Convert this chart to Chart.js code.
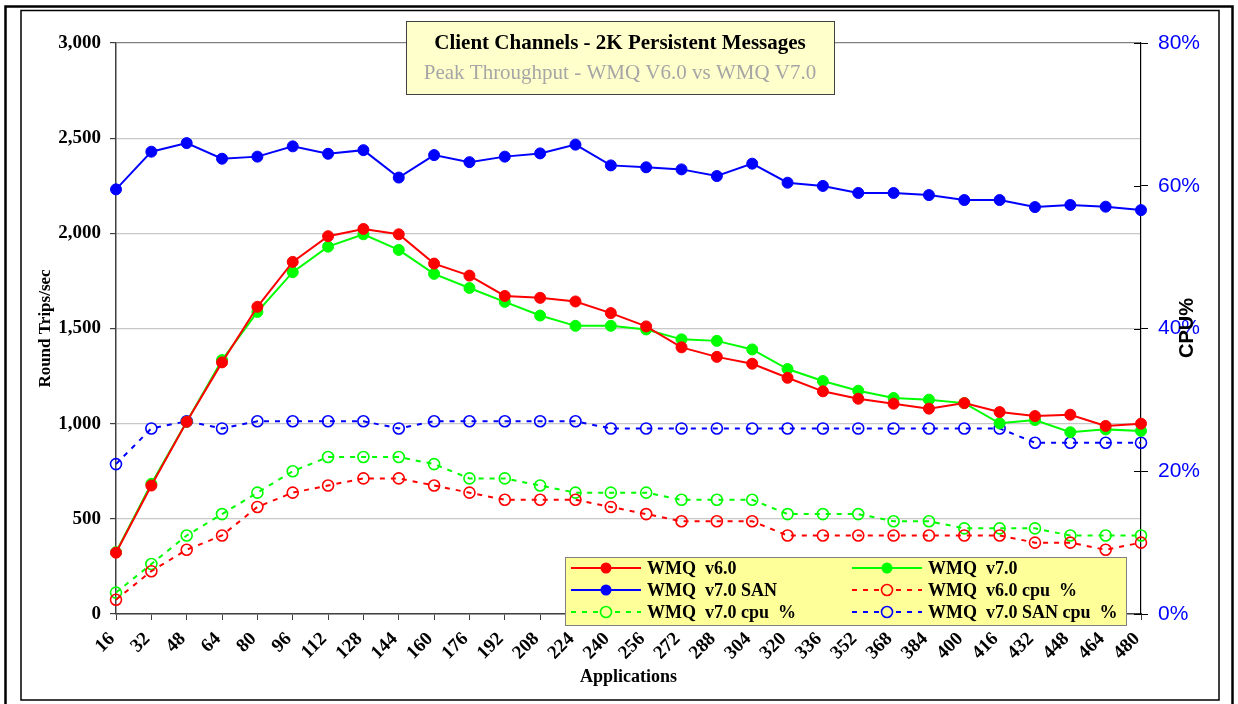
<!DOCTYPE html>
<html>
<head>
<meta charset="utf-8">
<title>Client Channels - 2K Persistent Messages</title>
<script src="https://cdn.jsdelivr.net/npm/chart.js@4"></script>
<style>
  html, body { margin: 0; padding: 0; background: #fff; }
  canvas { display: block; }
</style>
</head>
<body>
<canvas id="myChart" width="1238" height="704"></canvas>
<script>
// x categories (number of applications)
const apps = [16, 32, 48, 64, 80, 96, 112, 128, 144, 160, 176, 192, 208, 224, 240,
              256, 272, 288, 304, 320, 336, 352, 368, 384, 400, 416, 432, 448, 464, 480];

// round trips/sec (left axis)
const v60 = [322, 675, 1010, 1322, 1614, 1850, 1985, 2023, 1995, 1841, 1778, 1671, 1661, 1642, 1581,
             1511, 1401, 1351, 1315, 1241, 1170, 1131, 1105, 1079, 1108, 1061, 1040, 1047, 988, 1000];
const v70 = [325, 684, 1010, 1334, 1587, 1796, 1930, 1995, 1913, 1787, 1713, 1640, 1568, 1514, 1514,
             1495, 1443, 1435, 1390, 1287, 1224, 1173, 1135, 1126, 1108, 1002, 1019, 955, 970, 962];
const v70san = [2231, 2429, 2474, 2392, 2403, 2457, 2418, 2437, 2293, 2411, 2374, 2403, 2420, 2466, 2357,
                2347, 2336, 2301, 2366, 2266, 2249, 2212, 2212, 2201, 2175, 2175, 2138, 2149, 2140, 2122];

// cpu % (right axis)
const v60cpu = [2, 6, 9, 11, 15, 17, 18, 19, 19, 18, 17, 16, 16, 16, 15,
                14, 13, 13, 13, 11, 11, 11, 11, 11, 11, 11, 10, 10, 9, 10];
const v70cpu = [3, 7, 11, 14, 17, 20, 22, 22, 22, 21, 19, 19, 18, 17, 17,
                17, 16, 16, 16, 14, 14, 14, 13, 13, 12, 12, 12, 11, 11, 11];
const sanCpu = [21, 26, 27, 26, 27, 27, 27, 27, 26, 27, 27, 27, 27, 27, 26,
                26, 26, 26, 26, 26, 26, 26, 26, 26, 26, 26, 24, 24, 24, 24];

const titleText = 'Client Channels - 2K Persistent Messages';
const subTitleText = 'Peak Throughput - WMQ V6.0 vs WMQ V7.0';

Chart.defaults.font.family = '"Liberation Serif", "Times New Roman", serif';
Chart.defaults.color = '#000';

function solid(label, data, color) {
    return {
        label: label, data: data, yAxisID: 'y',
        borderColor: color, backgroundColor: color, borderWidth: 2,
        pointRadius: 5.5, pointBackgroundColor: color, pointBorderColor: color, pointBorderWidth: 1,
        tension: 0, clip: false
    };
}
function dotted(label, data, color) {
    return {
        label: label, data: data, yAxisID: 'y1',
        borderColor: color, backgroundColor: color, borderWidth: 2, borderDash: [5, 6],
        pointRadius: 5.5, pointBackgroundColor: 'rgba(255,255,255,0)', pointBorderColor: color, pointBorderWidth: 1.6,
        tension: 0, clip: false
    };
}

// frame, title box, right-axis title and legend drawn on the canvas
const extras = {
    id: 'extras',
    beforeDraw(chart) {
        const c = chart.ctx;
        c.save();
        c.fillStyle = '#fff';
        c.fillRect(0, 0, chart.width, chart.height);
        c.strokeStyle = '#000';
        c.lineWidth = 2.5;
        c.strokeRect(5.5, 6.5, 1227, 720);
        c.lineWidth = 1.5;
        c.strokeRect(21, 10.5, 1198, 689.5);
        c.restore();
    },
    afterDraw(chart) {
        const c = chart.ctx;
        const y1 = chart.scales.y1;
        const area = chart.chartArea;
        c.save();

        // inner half of the right axis tick marks
        c.strokeStyle = '#000';
        c.lineWidth = 1;
        y1.ticks.forEach((t, i) => {
            const py = Math.round(y1.getPixelForTick(i)) + 0.5;
            c.beginPath();
            c.moveTo(area.right - 7, py);
            c.lineTo(area.right, py);
            c.stroke();
        });

        // right axis title, reading upwards
        c.translate(1187, 328);
        c.rotate(-Math.PI / 2);
        c.font = 'bold 20px "Liberation Sans", Arial, sans-serif';
        c.textAlign = 'center';
        c.textBaseline = 'middle';
        c.fillStyle = '#000';
        c.fillText('CPU%', 0, 0);
        c.setTransform(1, 0, 0, 1, 0, 0);

        // title box
        c.fillStyle = '#FFFFCC';
        c.fillRect(406, 21, 428, 73);
        c.strokeStyle = '#404040';
        c.lineWidth = 1;
        c.strokeRect(406.5, 21.5, 428, 73);
        c.textAlign = 'center';
        c.textBaseline = 'middle';
        c.fillStyle = '#000';
        c.font = 'bold 21px "Liberation Serif", serif';
        c.fillText(titleText, 620, 44);
        c.fillStyle = '#A6A6A6';
        c.font = '21px "Liberation Serif", serif';
        c.fillText(subTitleText, 620, 73);

        // legend box
        c.fillStyle = '#FFFF99';
        c.fillRect(565, 557, 561, 68);
        c.strokeStyle = '#808080';
        c.strokeRect(565.5, 557.5, 561, 68);
        const cols = [571, 852];
        const rows = [568, 590, 612];
        c.textAlign = 'left';
        c.font = 'bold 18px "Liberation Serif", serif';
        chart.data.datasets.forEach((ds, i) => {
            const x0 = cols[i % 2];
            const py = rows[Math.floor(i / 2)];
            c.strokeStyle = ds.borderColor;
            c.lineWidth = ds.borderWidth;
            c.setLineDash(ds.borderDash || []);
            c.beginPath();
            c.moveTo(x0, py);
            c.lineTo(x0 + 70, py);
            c.stroke();
            c.setLineDash([]);
            c.beginPath();
            c.arc(x0 + 35, py, ds.pointRadius, 0, Math.PI * 2);
            if (ds.borderDash) {
                c.fillStyle = '#FFFF99';
                c.fill();
                c.lineWidth = ds.pointBorderWidth;
                c.stroke();
            } else {
                c.fillStyle = ds.pointBackgroundColor;
                c.fill();
            }
            c.fillStyle = '#000';
            c.fillText(ds.label, x0 + 76, py + 1);
        });
        c.restore();
    }
};

const ctx = document.getElementById('myChart');

new Chart(ctx, {
    type: 'line',
    data: {
        labels: apps,
        datasets: [
            solid('WMQ  v6.0', v60, '#FF0000'),
            solid('WMQ  v7.0', v70, '#00FF00'),
            solid('WMQ  v7.0 SAN', v70san, '#0000FF'),
            dotted('WMQ  v6.0 cpu  %', v60cpu, '#FF0000'),
            dotted('WMQ  v7.0 cpu  %', v70cpu, '#00FF00'),
            dotted('WMQ  v7.0 SAN cpu  %', sanCpu, '#0000FF')
        ]
    },
    options: {
        responsive: false,
        animation: false,
        devicePixelRatio: 1,
        layout: { padding: { top: 43, left: 0, right: 0, bottom: 0 } },
        plugins: {
            legend: { display: false },
            title: { display: false },
            tooltip: { enabled: false }
        },
        scales: {
            x: {
                offset: false,
                grid: { drawOnChartArea: false, drawTicks: true, tickLength: 6, tickColor: '#404040' },
                border: { color: '#404040', width: 1.5 },
                ticks: {
                    autoSkip: false, minRotation: 45, maxRotation: 45, padding: 8, labelOffset: -4,
                    font: { size: 19, weight: 'bold' }, color: '#000'
                },
                title: {
                    display: true, text: 'Applications',
                    font: { size: 18, weight: 'bold' }, color: '#000',
                    padding: { top: 0, bottom: 16 }
                },
                afterFit(scale) { scale.height = 90; }
            },
            y: {
                position: 'left',
                min: 0, max: 3000,
                ticks: {
                    stepSize: 500, padding: 9,
                    font: { size: 19, weight: 'bold' }, color: '#000',
                    callback: (v) => v.toLocaleString('en-US')
                },
                grid: {
                    color: (c) => c.tick && c.tick.value === 3000 ? '#808080' : '#C8C8C8',
                    lineWidth: 1.2, tickLength: 6, tickColor: '#404040'
                },
                border: { color: '#404040', width: 1.5 },
                title: {
                    display: true, text: 'Round Trips/sec',
                    font: { size: 17, weight: 'bold' }, color: '#000',
                    padding: { top: 35, bottom: 0 }
                },
                afterFit(scale) { scale.width = 116; }
            },
            y1: {
                position: 'right',
                min: 0, max: 80,
                ticks: {
                    stepSize: 20, padding: 10,
                    font: { family: '"Liberation Sans", Arial, sans-serif', size: 21 }, color: '#0000FF',
                    callback: (v) => v + '%'
                },
                grid: { drawOnChartArea: false, tickLength: 7, tickColor: '#000' },
                border: { color: '#000', width: 1.2 },
                afterFit(scale) { scale.width = 97; }
            }
        }
    },
    plugins: [extras]
});
</script>
</body>
</html>
